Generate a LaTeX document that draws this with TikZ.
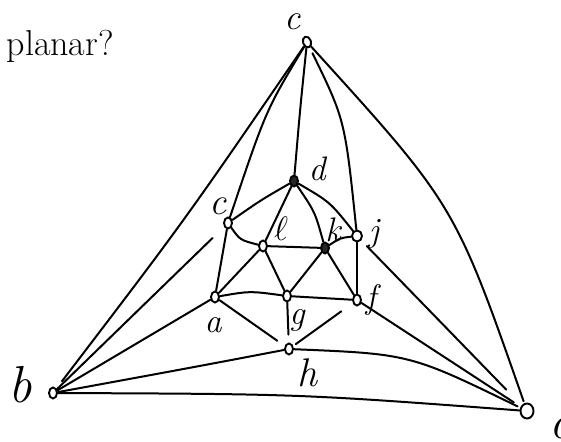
\RequirePackage{fix-cm}
\documentclass[tikz,border=0pt]{standalone}
\usepackage{fontspec}
\usetikzlibrary{shapes.geometric}
\begin{document}
\begin{tikzpicture}[x=1pt,y=-1pt,
  vtx/.style={draw, ellipse, line width=1.9pt, inner sep=0pt, minimum width=8pt, minimum height=11pt, fill=white},
  fvtx/.style={vtx, fill=black!85},
  bigvtx/.style={vtx, minimum width=13pt, minimum height=15pt},
  edge/.style={line width=2pt, line cap=round},
  lbl/.style={font=\fontsize{34}{34}\selectfont\itshape, inner sep=0pt}]
\useasboundingbox (0,0) rectangle (561,441);
% title
\node[anchor=base east, inner sep=0pt, font=\fontsize{36}{40}\selectfont] (title) at (114,56) {planar?};
% vertices
\node[vtx, rotate=20] (T) at (307,42) {};
\node[fvtx] (d) at (294,181) {};
\node[vtx] (e) at (228,223) {};
\node[vtx] (l) at (263,246) {};
\node[fvtx] (k) at (325,248) {};
\node[vtx, minimum width=10pt] (j) at (357,236) {};
\node[vtx] (a) at (215,297) {};
\node[vtx] (g) at (287,296) {};
\node[vtx] (f) at (357,300) {};
\node[vtx] (h) at (289,349) {};
\node[vtx] (b) at (53,393) {};
\node[bigvtx] (r) at (527,411) {};
% labels
\node[lbl, font=\fontsize{36}{36}\selectfont\itshape] (Tl) at (293,22) {c};
\node[lbl] (dl) at (317,169) {d};
\node[lbl, font=\fontsize{38}{38}\selectfont\itshape] (el) at (218,206) {c};
\node[lbl] (ll) at (281,229) {$\ell$};
\node[lbl] (kl) at (333,230) {k};
\node[lbl] (jl) at (374,234) {j};
\node[lbl] (al) at (213,325) {a};
\node[lbl] (gl) at (297,320) {g};
\node[lbl] (fl) at (371,300) {f};
\node[lbl, font=\fontsize{40}{40}\selectfont\itshape] (hl) at (307,373) {h};
\node[lbl, font=\fontsize{52}{52}\selectfont\itshape] (bl) at (20,385) {b};
\node[lbl, font=\fontsize{48}{48}\selectfont\itshape, anchor=west] (rl) at (549,428) {c};
% outer edges
\draw[edge, shorten >=9pt] (T) .. controls (185,220) .. (b);
\draw[edge, shorten >=2pt] (T) .. controls (455,205) .. (r);
\draw[edge] (T) .. controls (300,110) .. (d);
\draw[edge] (T) .. controls (266,110) .. (e);
\draw[edge, shorten <=6pt] (T) .. controls (345,120) .. (j);
% inner edges
\draw[edge] (d) .. controls (261,200) .. (e);
\draw[edge] (d) -- (l);
\draw[edge] (d) .. controls (315,212) .. (k);
\draw[edge] (d) .. controls (330,202) .. (j);
\draw[edge] (e) .. controls (240,240) .. (l);
\draw[edge] (e) -- (a);
\draw[edge] (l) -- (k);
\draw[edge] (k) .. controls (340,238) .. (j);
\draw[edge] (l) -- (a);
\draw[edge] (l) -- (g);
\draw[edge] (k) -- (g);
\draw[edge] (k) -- (f);
\draw[edge] (j) -- (f);
\draw[edge] (a) .. controls (250,291) .. (g);
\draw[edge] (g) -- (f);
\draw[edge, shorten >=9pt] (a) -- (h);
\draw[edge, shorten >=8pt] (g) -- (h);
\draw[edge, shorten <=14pt, shorten >=3pt] (f) -- (h);
% edges to b
\draw[edge, shorten <=16pt] (e) -- (b);
\draw[edge] (a) -- (b);
\draw[edge] (h) .. controls (200,366) .. (b);
\draw[edge] (b) .. controls (300,394) .. (r);
% edges to r
\draw[edge, shorten >=3pt] (h) .. controls (410,354) .. (r);
\draw[edge, shorten <=8pt, shorten >=22pt] (j) -- (r);
\draw[edge, shorten >=8pt] (f) -- (r);
\end{tikzpicture}
\end{document}
